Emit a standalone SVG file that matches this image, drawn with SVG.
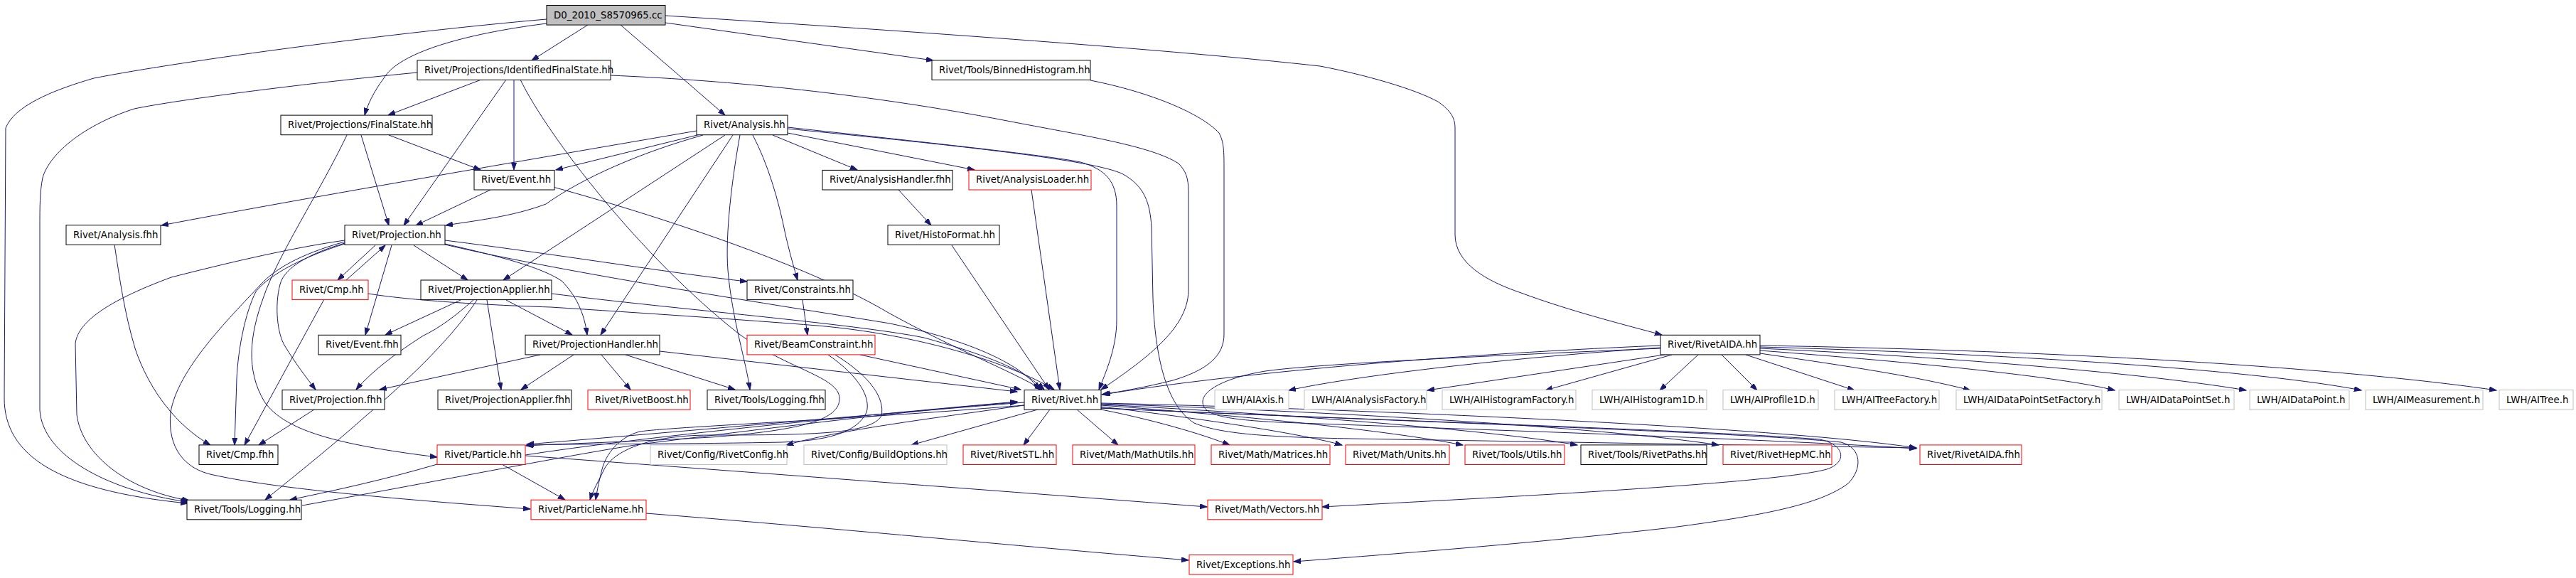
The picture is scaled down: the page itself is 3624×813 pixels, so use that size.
<svg xmlns="http://www.w3.org/2000/svg" width="3624" height="813" viewBox="0 0 3624 813">
<style>
rect{fill:#fff;stroke:#000;stroke-width:1}
.r rect{stroke:#ff0000}
.g rect{stroke:#bfbfbf}
.root rect{fill:#bfbfbf}
text{font-family:"DejaVu Sans","Liberation Sans",sans-serif;font-size:13.33px;fill:#000}
#edges path{fill:none;stroke:#191970;stroke-width:1;marker-end:url(#a)}
</style>
<defs>
<marker id="a" markerUnits="userSpaceOnUse" markerWidth="12" markerHeight="9" refX="10" refY="3.5" orient="auto">
<path d="M0,0 L10,3.5 L0,7 z" fill="#191970" stroke="#191970" stroke-width="1"/>
</marker>
</defs>
<rect x="0" y="0" width="3624" height="813" style="fill:#fff;stroke:none"/>
<g id="edges">
<path d="M769,27 C560,45 260,85 132,110 C70,128 20,150 8,180 L6,560 C6,640 80,690 264,708"/>
<path d="M587,102 C450,115 250,140 189,153 C120,175 70,215 60,250 C56,270 56,290 56,320 L56,577 C60,640 150,690 264,706"/>
<path d="M485,338 C400,350 300,375 241,390 C160,420 110,450 106,483 L108,583 C115,640 180,690 266,704"/>
<path d="M769,33 C650,48 560,75 540,110 C525,130 517,148 513,162"/>
<path d="M827,35 L748,85"/>
<path d="M873,35 L1020,162"/>
<path d="M936,32 L1313,85"/>
<path d="M936,22 C1300,45 1650,70 1857,93 C1920,105 1990,125 2023,143 C2040,155 2047,165 2047,180 L2047,330 C2047,370 2090,395 2140,412 C2210,438 2290,458 2338,471"/>
<path d="M677,112 L546,162"/>
<path d="M712,112 L568,317"/>
<path d="M723,112 L723,239"/>
<path d="M732,112 C770,190 900,360 1040,470 C1110,520 1180,530 1181,560 C1182,590 1130,605 1000,615 C880,622 790,624 740,627"/>
<path d="M859,106 C1000,112 1200,128 1417,170 C1520,190 1620,205 1658,230 C1668,240 1672,250 1672,270 L1672,410 C1670,460 1620,500 1549,548"/>
<path d="M1534,113 C1620,130 1690,160 1715,187 C1722,200 1722,213 1722,240 L1722,470 C1722,500 1700,520 1650,535 C1610,545 1580,550 1550,555"/>
<path d="M1451,267 L1491,548"/>
<path d="M1339,345 L1476,548"/>
<path d="M1264,267 L1310,317"/>
<path d="M508,190 L547,317"/>
<path d="M547,190 L676,239"/>
<path d="M488,190 C450,270 390,360 370,420 C352,470 345,520 372,565 C400,605 470,625 615,643"/>
<path d="M690,267 L585,317"/>
<path d="M778,263 C950,310 1150,380 1250,440 C1350,495 1420,520 1466,548"/>
<path d="M980,184 C800,215 420,280 227,317"/>
<path d="M985,189 L782,239"/>
<path d="M989,190 C900,215 820,250 768,287 C720,305 670,310 627,317"/>
<path d="M1020,190 L708,394"/>
<path d="M1031,190 L845,471"/>
<path d="M1041,190 C1030,250 1020,330 1024,380 C1030,450 1050,510 1055,548"/>
<path d="M1059,190 C1080,230 1095,280 1105,330 C1112,360 1118,380 1122,394"/>
<path d="M1087,190 L1206,239"/>
<path d="M1108,187 L1371,239"/>
<path d="M1108,179 C1300,200 1470,218 1520,228 C1555,238 1571,255 1571,290 L1571,450 C1571,490 1555,525 1546,548"/>
<path d="M1108,181 C1350,205 1540,225 1580,245 C1610,262 1618,285 1620,320 L1622,420 C1625,500 1640,570 1680,595 C1720,612 1800,615 1900,617 L2696,630"/>
<path d="M528,345 L475,394"/>
<path d="M487,394 L542,345"/>
<path d="M582,345 L658,394"/>
<path d="M551,345 L514,471"/>
<path d="M485,342 C440,355 400,375 394,400 C386,430 390,470 401,487 C415,510 430,530 444,548"/>
<path d="M485,343 C430,360 380,385 360,410 C345,440 335,490 333,533 L330,626"/>
<path d="M485,340 C420,358 385,380 367,400 C320,450 250,520 240,580 C235,630 260,660 300,668 C400,690 600,705 746,716"/>
<path d="M626,338 C800,360 950,385 1051,396"/>
<path d="M626,343 C700,360 760,375 790,395 C810,415 822,440 826,471"/>
<path d="M626,344 C800,385 1100,430 1252,455 C1370,480 1440,515 1462,548"/>
<path d="M456,421 L344,626"/>
<path d="M518,413 C560,420 650,428 775,432 C900,440 1050,450 1150,458 C1290,470 1420,510 1483,548"/>
<path d="M161,344 C168,390 175,440 190,490 C210,550 250,600 296,626"/>
<path d="M442,576 L364,626"/>
<path d="M648,422 L542,471"/>
<path d="M666,422 C640,445 620,460 594,473 C560,495 525,520 501,548"/>
<path d="M671,422 C640,470 580,530 517,583 C470,625 420,665 373,703"/>
<path d="M685,422 L705,548"/>
<path d="M712,422 L805,471"/>
<path d="M776,413 C950,435 1200,455 1300,475 C1390,500 1440,520 1469,548"/>
<path d="M760,499 L534,548"/>
<path d="M807,499 L733,548"/>
<path d="M846,499 L887,548"/>
<path d="M880,499 L1034,548"/>
<path d="M928,494 L1431,551"/>
<path d="M1129,422 L1136,471"/>
<path d="M1210,499 L1436,548"/>
<path d="M1165,499 C1210,530 1225,560 1219,580 C1205,610 1160,620 1100,622 C950,625 820,624 741,626"/>
<path d="M1175,499 C1225,530 1245,560 1240,585 C1225,610 1150,612 1000,612 C900,612 860,640 850,660 C843,675 834,690 830,703"/>
<path d="M425,711 C600,680 800,640 900,625 C1100,600 1300,575 1431,566"/>
<path d="M739,640 C900,615 1200,585 1431,565"/>
<path d="M1441,566 C1200,585 900,612 741,625"/>
<path d="M1441,570 C1200,590 950,600 900,607 C870,615 852,640 847,660 C842,680 840,690 838,703"/>
<path d="M1441,570 C1300,590 1180,605 1106,626"/>
<path d="M1460,576 L1282,626"/>
<path d="M1477,576 L1440,626"/>
<path d="M1515,576 L1573,626"/>
<path d="M1549,576 C1620,590 1690,610 1730,626"/>
<path d="M1549,572 C1700,590 1830,610 1888,626"/>
<path d="M1549,570 C1750,585 1950,605 2058,626"/>
<path d="M1549,569 C1800,582 2100,605 2219,626"/>
<path d="M1549,568 C1850,578 2250,600 2418,626"/>
<path d="M1549,567 C1900,575 2500,600 2696,630"/>
<path d="M1549,574 C1900,590 2400,605 2560,618 C2595,625 2600,650 2570,660 C2500,680 2100,700 1860,713"/>
<path d="M1549,574 C1950,592 2450,608 2590,622 C2620,630 2620,660 2600,680 C2560,710 2480,725 2352,742 C2150,765 1950,780 1820,790"/>
<path d="M615,653 C540,675 470,690 408,703"/>
<path d="M706,653 L795,703"/>
<path d="M739,641 C1000,660 1400,690 1698,713"/>
<path d="M909,722 C1200,745 1450,770 1672,788"/>
<path d="M2336,486 C2000,500 1700,530 1552,555"/>
<path d="M2336,489 C2100,505 1900,530 1813,549"/>
<path d="M2348,498 L2008,549"/>
<path d="M2352,499 L2174,549"/>
<path d="M2389,499 L2335,549"/>
<path d="M2422,499 L2472,549"/>
<path d="M2456,499 L2609,549"/>
<path d="M2476,497 C2600,515 2700,530 2772,549"/>
<path d="M2476,493 C2700,510 2900,530 2975,549"/>
<path d="M2476,490 C2800,505 3050,530 3160,549"/>
<path d="M2476,488 C2900,500 3200,525 3322,549"/>
<path d="M2476,486 C3000,495 3350,525 3512,549"/>
<path d="M2336,490 C2100,500 1850,512 1780,522 C1720,532 1692,550 1692,565 C1692,582 1715,590 1800,594 C2100,605 2500,618 2696,631"/>
</g>
<g id="n_d0" class="root"><rect x="769" y="7.5" width="167" height="27.6"/><text x="779" y="25.5">D0_2010_S8570965.cc</text></g>
<g id="n_ifs"><rect x="587" y="84.8" width="272" height="27.6"/><text x="597" y="102.8">Rivet/Projections/IdentifiedFinalState.hh</text></g>
<g id="n_bh"><rect x="1311" y="84.8" width="223" height="27.6"/><text x="1321" y="102.8">Rivet/Tools/BinnedHistogram.hh</text></g>
<g id="n_fs"><rect x="395" y="162.1" width="213" height="27.6"/><text x="405" y="180.1">Rivet/Projections/FinalState.hh</text></g>
<g id="n_an"><rect x="980" y="162.1" width="128" height="27.6"/><text x="990" y="180.1">Rivet/Analysis.hh</text></g>
<g id="n_ev"><rect x="667" y="239.4" width="113" height="27.6"/><text x="677" y="257.4">Rivet/Event.hh</text></g>
<g id="n_ahf"><rect x="1157" y="239.4" width="183" height="27.6"/><text x="1167" y="257.4">Rivet/AnalysisHandler.fhh</text></g>
<g id="n_al" class="r"><rect x="1363" y="239.4" width="172" height="27.6"/><text x="1373" y="257.4">Rivet/AnalysisLoader.hh</text></g>
<g id="n_afh"><rect x="93" y="316.7" width="133" height="27.6"/><text x="103" y="334.7">Rivet/Analysis.fhh</text></g>
<g id="n_pr"><rect x="485" y="316.7" width="141" height="27.6"/><text x="495" y="334.7">Rivet/Projection.hh</text></g>
<g id="n_hf"><rect x="1249" y="316.7" width="157" height="27.6"/><text x="1259" y="334.7">Rivet/HistoFormat.hh</text></g>
<g id="n_cmp" class="r"><rect x="411" y="394" width="107" height="27.6"/><text x="421" y="412">Rivet/Cmp.hh</text></g>
<g id="n_pa"><rect x="592" y="394" width="184" height="27.6"/><text x="602" y="412">Rivet/ProjectionApplier.hh</text></g>
<g id="n_co"><rect x="1051" y="394" width="149" height="27.6"/><text x="1061" y="412">Rivet/Constraints.hh</text></g>
<g id="n_ef"><rect x="448" y="471.3" width="116" height="27.6"/><text x="458" y="489.3">Rivet/Event.fhh</text></g>
<g id="n_ph"><rect x="739" y="471.3" width="189" height="27.6"/><text x="749" y="489.3">Rivet/ProjectionHandler.hh</text></g>
<g id="n_bc" class="r"><rect x="1051" y="471.3" width="180" height="27.6"/><text x="1061" y="489.3">Rivet/BeamConstraint.hh</text></g>
<g id="n_ra"><rect x="2336" y="471.3" width="140" height="27.6"/><text x="2346" y="489.3">Rivet/RivetAIDA.hh</text></g>
<g id="n_pf"><rect x="397" y="548.6" width="144" height="27.6"/><text x="407" y="566.6">Rivet/Projection.fhh</text></g>
<g id="n_paf"><rect x="616" y="548.6" width="188" height="27.6"/><text x="626" y="566.6">Rivet/ProjectionApplier.fhh</text></g>
<g id="n_rb" class="r"><rect x="827" y="548.6" width="144" height="27.6"/><text x="837" y="566.6">Rivet/RivetBoost.hh</text></g>
<g id="n_lf"><rect x="995" y="548.6" width="166" height="27.6"/><text x="1005" y="566.6">Rivet/Tools/Logging.fhh</text></g>
<g id="n_rv"><rect x="1441" y="548.6" width="108" height="27.6"/><text x="1451" y="566.6">Rivet/Rivet.hh</text></g>
<g id="n_aiaxis" class="g"><rect x="1709" y="548.6" width="104" height="27.6"/><text x="1719" y="566.6">LWH/AIAxis.h</text></g>
<g id="n_aiaf" class="g"><rect x="1835" y="548.6" width="172" height="27.6"/><text x="1845" y="566.6">LWH/AIAnalysisFactory.h</text></g>
<g id="n_aihf" class="g"><rect x="2029" y="548.6" width="188" height="27.6"/><text x="2039" y="566.6">LWH/AIHistogramFactory.h</text></g>
<g id="n_aih1" class="g"><rect x="2240" y="548.6" width="161" height="27.6"/><text x="2250" y="566.6">LWH/AIHistogram1D.h</text></g>
<g id="n_aip1" class="g"><rect x="2424" y="548.6" width="134" height="27.6"/><text x="2434" y="566.6">LWH/AIProfile1D.h</text></g>
<g id="n_aitf" class="g"><rect x="2581" y="548.6" width="147" height="27.6"/><text x="2591" y="566.6">LWH/AITreeFactory.h</text></g>
<g id="n_aidpsf" class="g"><rect x="2752" y="548.6" width="205" height="27.6"/><text x="2762" y="566.6">LWH/AIDataPointSetFactory.h</text></g>
<g id="n_aidps" class="g"><rect x="2981" y="548.6" width="162" height="27.6"/><text x="2991" y="566.6">LWH/AIDataPointSet.h</text></g>
<g id="n_aidp" class="g"><rect x="3165" y="548.6" width="140" height="27.6"/><text x="3175" y="566.6">LWH/AIDataPoint.h</text></g>
<g id="n_aim" class="g"><rect x="3328" y="548.6" width="165" height="27.6"/><text x="3338" y="566.6">LWH/AIMeasurement.h</text></g>
<g id="n_ait" class="g"><rect x="3516" y="548.6" width="104" height="27.6"/><text x="3526" y="566.6">LWH/AITree.h</text></g>
<g id="n_cf"><rect x="280" y="625.9" width="111" height="27.6"/><text x="290" y="643.9">Rivet/Cmp.fhh</text></g>
<g id="n_pt" class="r"><rect x="615" y="625.9" width="124" height="27.6"/><text x="625" y="643.9">Rivet/Particle.hh</text></g>
<g id="n_rc" class="g"><rect x="915" y="625.9" width="192" height="27.6"/><text x="925" y="643.9">Rivet/Config/RivetConfig.hh</text></g>
<g id="n_bo" class="g"><rect x="1131" y="625.9" width="201" height="27.6"/><text x="1141" y="643.9">Rivet/Config/BuildOptions.hh</text></g>
<g id="n_stl" class="r"><rect x="1355" y="625.9" width="131" height="27.6"/><text x="1365" y="643.9">Rivet/RivetSTL.hh</text></g>
<g id="n_mu" class="r"><rect x="1509" y="625.9" width="172" height="27.6"/><text x="1519" y="643.9">Rivet/Math/MathUtils.hh</text></g>
<g id="n_mm" class="r"><rect x="1704" y="625.9" width="167" height="27.6"/><text x="1714" y="643.9">Rivet/Math/Matrices.hh</text></g>
<g id="n_un" class="r"><rect x="1893" y="625.9" width="146" height="27.6"/><text x="1903" y="643.9">Rivet/Math/Units.hh</text></g>
<g id="n_ut" class="r"><rect x="2061" y="625.9" width="140" height="27.6"/><text x="2071" y="643.9">Rivet/Tools/Utils.hh</text></g>
<g id="n_rp"><rect x="2224" y="625.9" width="177" height="27.6"/><text x="2234" y="643.9">Rivet/Tools/RivetPaths.hh</text></g>
<g id="n_hm" class="r"><rect x="2424" y="625.9" width="153" height="27.6"/><text x="2434" y="643.9">Rivet/RivetHepMC.hh</text></g>
<g id="n_raf" class="r"><rect x="2701" y="625.9" width="143" height="27.6"/><text x="2711" y="643.9">Rivet/RivetAIDA.fhh</text></g>
<g id="n_lg"><rect x="263" y="703.2" width="161" height="27.6"/><text x="273" y="721.2">Rivet/Tools/Logging.hh</text></g>
<g id="n_pn" class="r"><rect x="747" y="703.2" width="162" height="27.6"/><text x="757" y="721.2">Rivet/ParticleName.hh</text></g>
<g id="n_vc" class="r"><rect x="1699" y="703.2" width="161" height="27.6"/><text x="1709" y="721.2">Rivet/Math/Vectors.hh</text></g>
<g id="n_ex" class="r"><rect x="1673" y="780.5" width="146" height="27.6"/><text x="1683" y="798.5">Rivet/Exceptions.hh</text></g>
</svg>
